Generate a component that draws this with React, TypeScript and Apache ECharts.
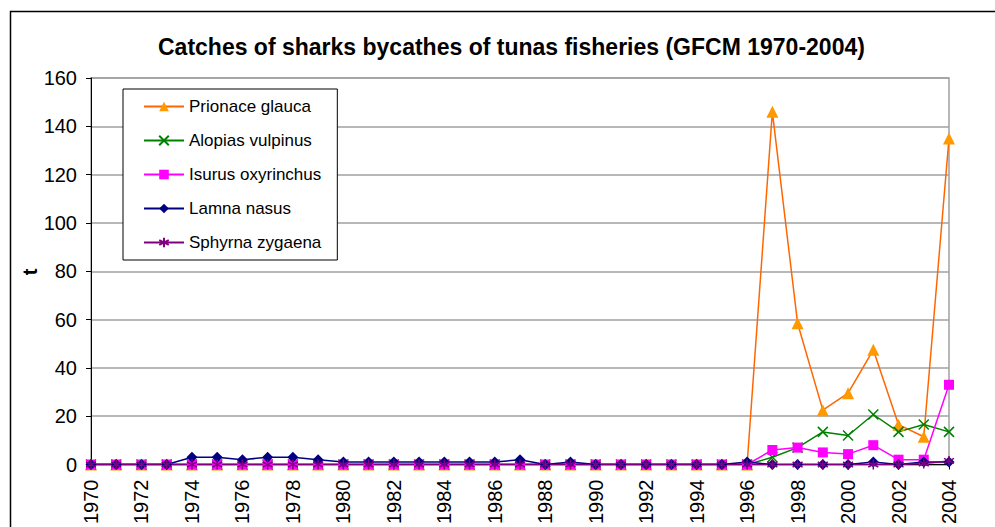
import React, { useEffect, useRef } from "react";
import * as echarts from "echarts";

const years = [
  "1970", "1971", "1972", "1973", "1974", "1975", "1976", "1977", "1978", "1979",
  "1980", "1981", "1982", "1983", "1984", "1985", "1986", "1987", "1988", "1989",
  "1990", "1991", "1992", "1993", "1994", "1995", "1996", "1997", "1998", "1999",
  "2000", "2001", "2002", "2003", "2004",
];

const prionaceGlauca = [
  0, 0, 0, 0, 0, 0, 0, 0, 0, 0,
  0, 0, 0, 0, 0, 0, 0, 0, 0, 0,
  0, 0, 0, 0, 0, 0, 0, 146, 58.5, 22.5,
  29.5, 47.5, 16.5, 11.5, 135,
];
const alopiasVulpinus = [
  0, 0, 0, 0, 0, 0, 0, 0, 0, 0,
  0, 0, 0, 0, 0, 0, 0, 0, 0, 0,
  0, 0, 0, 0, 0, 0, 0, 3, 7, 13.5,
  12, 20.7, 13.5, 16.6, 13.5,
];
const isurusOxyrinchus = [
  0, 0, 0, 0, 0, 0, 0, 0, 0, 0,
  0, 0, 0, 0, 0, 0, 0, 0, 0, 0,
  0, 0, 0, 0, 0, 0, 0, 6, 7, 5,
  4.3, 8, 2, 2, 33,
];
const lamnaNasus = [
  0, 0, 0, 0, 3, 3, 2, 3, 3, 2,
  1, 1, 1, 1, 1, 1, 1, 2, 0, 1,
  0, 0, 0, 0, 0, 0, 1, 0, 0, 0,
  0, 1, 0, 1, 1,
];
const sphyrnaZygaena = [
  0, 0, 0, 0, 0, 0, 0, 0, 0, 0,
  0, 0, 0, 0, 0, 0, 0, 0, 0, 0,
  0, 0, 0, 0, 0, 0, 0, 0, 0, 0,
  0, 0, 0, 0.4, 1.5,
];

const yTicks = { min: 0, max: 160, interval: 20 };
const yAxisTitle = "t";

const FONT = "Arial, 'Liberation Sans', sans-serif";

const X_SYMBOL = "path://M0,0L10,10M10,0L0,10";
const STAR_SYMBOL = "path://M5,0L5,10M0.7,2.5L9.3,7.5M9.3,2.5L0.7,7.5";

export default function App() {
  const ref = useRef<HTMLDivElement>(null);
  useEffect(() => {
    if (!ref.current) return;
    const chart = echarts.init(ref.current, null, { renderer: "svg" });
    const mk = (
      name: string,
      data: number[],
      lineColor: string,
      markColor: string,
      symbol: string,
      size: number,
      stroke = false
    ) => ({
      name,
      type: "line",
      data,
      symbol,
      symbolSize: size,
      showAllSymbol: true,
      lineStyle: { color: lineColor, width: 1.5 },
      itemStyle: stroke
        ? { color: "rgba(0,0,0,0)", borderColor: markColor, borderWidth: 1.5 }
        : { color: markColor, borderWidth: 0 },
      color: lineColor,
      z: 2,
    });
    chart.setOption({
      animation: false,
      backgroundColor: "#fff",
      textStyle: { fontFamily: FONT },
      title: {
        text: "Catches of sharks bycathes of tunas fisheries (GFCM 1970-2004)",
        left: 153,
        top: 30,
        textStyle: { fontSize: 23, fontWeight: "bold", color: "#000", fontFamily: FONT },
      },
      graphic: [
        {
          type: "rect",
          shape: { x: 10.5, y: 11.5, width: 1000, height: 600 },
          style: { fill: "none", stroke: "#000", lineWidth: 1.5 },
          silent: true,
          z: -10,
        },
        {
          type: "text",
          x: 30,
          y: 272,
          rotation: Math.PI / 2,
          style: {
            text: yAxisTitle,
            fontSize: 20,
            fontWeight: "bold",
            fontFamily: FONT,
            fill: "#000",
            align: "center",
            verticalAlign: "middle",
          },
          silent: true,
        },
      ],
      legend: {
        orient: "vertical",
        left: 123,
        top: 89,
        padding: [9, 16, 9, 20],
        itemGap: 17,
        itemWidth: 40,
        itemHeight: 12,
        borderColor: "#000",
        borderWidth: 1,
        backgroundColor: "#fff",
        textStyle: { fontSize: 17, color: "#000", fontFamily: FONT },
        data: [
          "Prionace glauca",
          "Alopias vulpinus",
          "Isurus oxyrinchus",
          "Lamna nasus",
          "Sphyrna zygaena",
        ],
      },
      grid: {
        left: 91,
        right: 46,
        top: 78,
        bottom: 61,
        show: true,
        borderColor: "#a0a0a0",
        borderWidth: 1.5,
        containLabel: false,
      },
      xAxis: {
        type: "category",
        data: years,
        boundaryGap: false,
        axisLine: { lineStyle: { color: "#000", width: 1 } },
        axisTick: { show: true, length: 5, lineStyle: { color: "#000" } },
        axisLabel: {
          interval: 1,
          rotate: 90,
          fontSize: 20,
          color: "#000",
          margin: 15,
          fontFamily: FONT,
        },
        splitLine: { show: false },
      },
      yAxis: {
        type: "value",
        min: yTicks.min,
        max: yTicks.max,
        interval: yTicks.interval,
        axisLine: { show: true, lineStyle: { color: "#000", width: 1 } },
        axisTick: { show: true, length: 5, lineStyle: { color: "#000" } },
        axisLabel: { fontSize: 20, color: "#000", margin: 14, fontFamily: FONT },
        splitLine: { show: true, lineStyle: { color: "#a0a0a0", width: 1.5 } },
      },
      series: [
        mk("Prionace glauca", prionaceGlauca, "#ff6600", "#ff9900", "triangle", 12),
        mk("Alopias vulpinus", alopiasVulpinus, "#008000", "#008000", X_SYMBOL, 10, true),
        mk("Isurus oxyrinchus", isurusOxyrinchus, "#ff00ff", "#ff00ff", "rect", 10),
        mk("Lamna nasus", lamnaNasus, "#000080", "#000080", "diamond", 11),
        mk("Sphyrna zygaena", sphyrnaZygaena, "#800080", "#800080", STAR_SYMBOL, 10, true),
      ],
    });
    return () => chart.dispose();
  }, []);
  return (
    <div
      ref={ref}
      style={{ position: "absolute", left: 0, top: 0, width: 995, height: 527 }}
    />
  );
}
